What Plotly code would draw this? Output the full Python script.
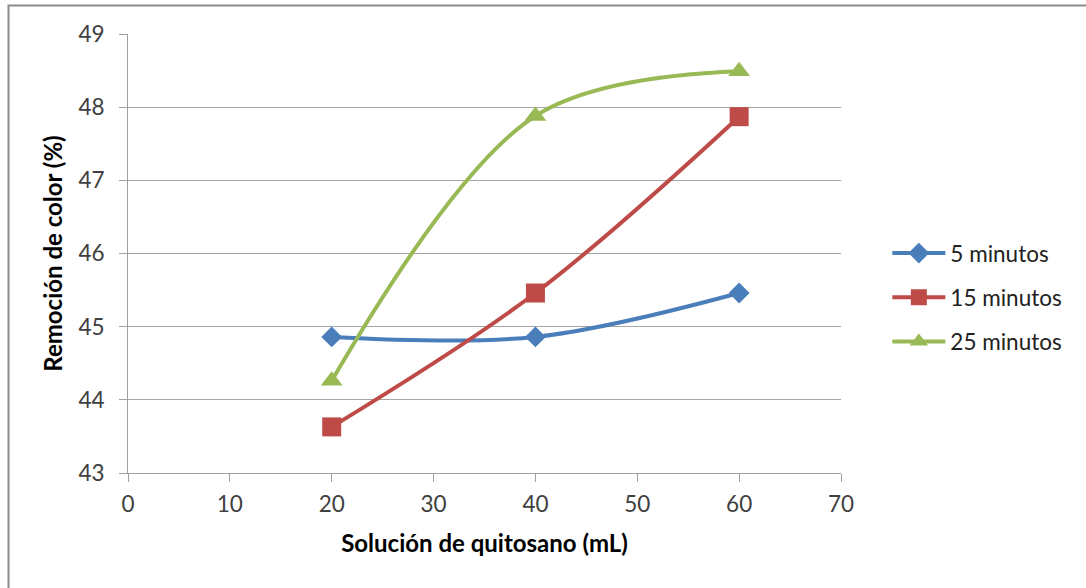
import plotly.graph_objects as go

x_vals = [20, 40, 60]
names = ["5 minutos", "15 minutos", "25 minutos"]
y_5 = [44.86, 44.86, 45.46]
y_15 = [43.63, 45.46, 47.87]
y_25 = [44.26, 47.88, 48.49]
x_ticks = [0, 10, 20, 30, 40, 50, 60, 70]
y_ticks = [43, 44, 45, 46, 47, 48, 49]

colors = ["#4A7EBB", "#BE4B48", "#98B954"]
symbols = ["diamond", "square", "triangle-up"]
sizes = [16, 19, 19]

FONT = "Lato"

fig = go.Figure()
for i, (nm, ys) in enumerate(zip(names, [y_5, y_15, y_25])):
    fig.add_trace(go.Scatter(
        x=x_vals, y=ys, name=nm, mode="lines+markers",
        line=dict(color=colors[i], width=4, shape="spline", smoothing=1),
        marker=dict(symbol=symbols[i], size=sizes[i], color=colors[i]),
        legendgroup=nm,
    ))

fig.update_layout(
    width=1086, height=588,
    margin=dict(l=128, r=245, t=34, b=115),
    paper_bgcolor="white", plot_bgcolor="white",
    font=dict(family=FONT, size=22, color="#404040"),
    showlegend=True,
    legend=dict(x=1.065, y=0.40, xanchor="left", yanchor="middle",
                font=dict(family=FONT, size=22.5, color="#222222"),
                tracegroupgap=12, itemwidth=53, bgcolor="rgba(0,0,0,0)"),
    shapes=[dict(type="rect", xref="paper", yref="paper",
                 x0=(8.5 - 128) / 713, x1=1.5, y0=-0.5, y1=1 + (34 - 5.5) / 439,
                 line=dict(color="#8C8C8C", width=2), layer="below")],
)
fig.update_xaxes(
    range=[0, 70], tickvals=x_ticks, showgrid=False, zeroline=False,
    showline=True, linecolor="#A0A0A0", linewidth=1,
    ticks="outside", ticklen=8, tickcolor="#A0A0A0", ticklabelstandoff=3,
    tickfont=dict(family=FONT, size=22.5, color="#404040"),
    title=dict(text="<b>Solución de quitosano (mL)</b>",
               font=dict(family=FONT, size=24, color="#000000"), standoff=19),
)
fig.update_yaxes(
    range=[43, 49], tickvals=y_ticks, showgrid=True, gridcolor="#A6A6A6", gridwidth=1,
    zeroline=False, showline=True, linecolor="#A0A0A0", linewidth=1,
    ticks="outside", ticklen=8, tickcolor="#A0A0A0", ticklabelstandoff=10,
    tickfont=dict(family=FONT, size=22.5, color="#404040"),
    title=dict(text="<b>Remoción de color (%)</b>",
               font=dict(family=FONT, size=24, color="#000000"), standoff=8),
)

fig.write_html("out.html")
